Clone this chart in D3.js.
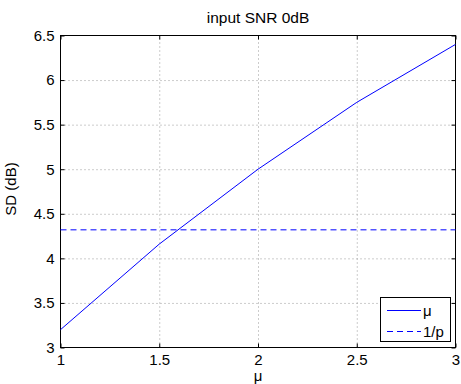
<!DOCTYPE html>
<html>
<head>
<meta charset="utf-8">
<script src="https://cdn.jsdelivr.net/npm/d3@7"></script>
<style>
  body { margin: 0; background: #fff; }
  text { font-family: "Liberation Sans", Arial, sans-serif; fill: #000; }
</style>
</head>
<body>
<div id="chart"></div>
<script>
// values
var muValues = [1, 1.5, 2, 2.5, 3]
var sdValues = [3.2, 4.16, 5.0, 5.75, 6.4]
var invP = 4.32
var xTicks = [1, 1.5, 2, 2.5, 3]
var yTicks = [3, 3.5, 4, 4.5, 5, 5.5, 6, 6.5]
var legendLabels = ["\u03bc", "1/p"]

// plot box in pixels ("top" is taken by window.top, so use other names)
var plotLeft = 60.5, plotRight = 455.5, plotTop = 35.5, plotBottom = 347.5

var svg = d3.select("#chart").append("svg")
  .attr("width", 461)
  .attr("height", 384)

var x = d3.scaleLinear().domain([1, 3]).range([plotLeft, plotRight])
var y = d3.scaleLinear().domain([3, 6.5]).range([plotBottom, plotTop])

// dotted grid
svg.append("g").attr("transform", "translate(0," + plotBottom + ")")
  .call(d3.axisBottom(x).tickValues(xTicks.slice(1, -1)).tickSize(-(plotBottom - plotTop)).tickFormat(""))
  .call(g => g.select(".domain").remove())
  .selectAll("line").attr("stroke", "#999").attr("stroke-dasharray", "1,3")

svg.append("g").attr("transform", "translate(" + plotLeft + ",0)")
  .call(d3.axisLeft(y).tickValues(yTicks.slice(1, -1)).tickSize(-(plotRight - plotLeft)).tickFormat(""))
  .call(g => g.select(".domain").remove())
  .selectAll("line").attr("stroke", "#999").attr("stroke-dasharray", "1,3")

// axes with inward ticks
svg.append("g").attr("transform", "translate(0," + plotBottom + ")")
  .call(d3.axisBottom(x).tickValues(xTicks).tickSizeInner(-4).tickSizeOuter(0).tickPadding(7).tickFormat(d3.format("")))
svg.append("g").attr("transform", "translate(" + plotLeft + ",0)")
  .call(d3.axisLeft(y).tickValues(yTicks).tickSizeInner(-4).tickSizeOuter(0).tickPadding(6).tickFormat(d3.format("")))
svg.append("g").attr("transform", "translate(0," + plotTop + ")")
  .call(d3.axisTop(x).tickValues(xTicks).tickSizeInner(-4).tickSizeOuter(0).tickFormat(""))
svg.append("g").attr("transform", "translate(" + plotRight + ",0)")
  .call(d3.axisRight(y).tickValues(yTicks).tickSizeInner(-4).tickSizeOuter(0).tickFormat(""))

svg.selectAll(".tick text")
  .style("font-size", "15px")
  .style("font-family", "'Liberation Sans', Arial, sans-serif")
  .attr("fill", "#000")
svg.selectAll(".domain").remove()

svg.append("rect")
  .attr("x", plotLeft).attr("y", plotTop)
  .attr("width", plotRight - plotLeft).attr("height", plotBottom - plotTop)
  .attr("fill", "none").attr("stroke", "#000").attr("stroke-width", 1)

// data lines
var line = d3.line().x((d, i) => x(muValues[i])).y(d => y(d))
svg.append("path")
  .datum(sdValues)
  .attr("d", line)
  .attr("fill", "none")
  .attr("stroke", "#0000ff")
  .attr("stroke-width", 1)

svg.append("line")
  .attr("x1", x(1)).attr("x2", x(3))
  .attr("y1", y(invP)).attr("y2", y(invP))
  .attr("stroke", "#0000ff")
  .attr("stroke-dasharray", "6,4")

// title and labels
svg.append("text")
  .attr("x", 258).attr("y", 23)
  .attr("text-anchor", "middle")
  .style("font-size", "15.5px")
  .text("input SNR 0dB")

svg.append("text")
  .attr("x", 258).attr("y", 381)
  .attr("text-anchor", "middle")
  .style("font-size", "15px")
  .text("\u03bc")

svg.append("text")
  .attr("transform", "translate(16,189) rotate(-90)")
  .attr("text-anchor", "middle")
  .style("font-size", "15px")
  .text("SD (dB)")

// legend
var legend = svg.append("g")
legend.append("rect")
  .attr("x", 380.5).attr("y", 297.5)
  .attr("width", 70).attr("height", 44)
  .attr("fill", "#fff").attr("stroke", "#000")

legendLabels.forEach(function(label, i) {
  var ly = 310.5 + i * 21
  legend.append("line")
    .attr("x1", 387).attr("x2", 421)
    .attr("y1", ly).attr("y2", ly)
    .attr("stroke", "#0000ff")
    .attr("stroke-dasharray", i == 1 ? "6,4" : null)
  legend.append("text")
    .attr("x", 423).attr("y", ly + 5)
    .style("font-size", "15px")
    .text(label)
})
</script>
</body>
</html>
